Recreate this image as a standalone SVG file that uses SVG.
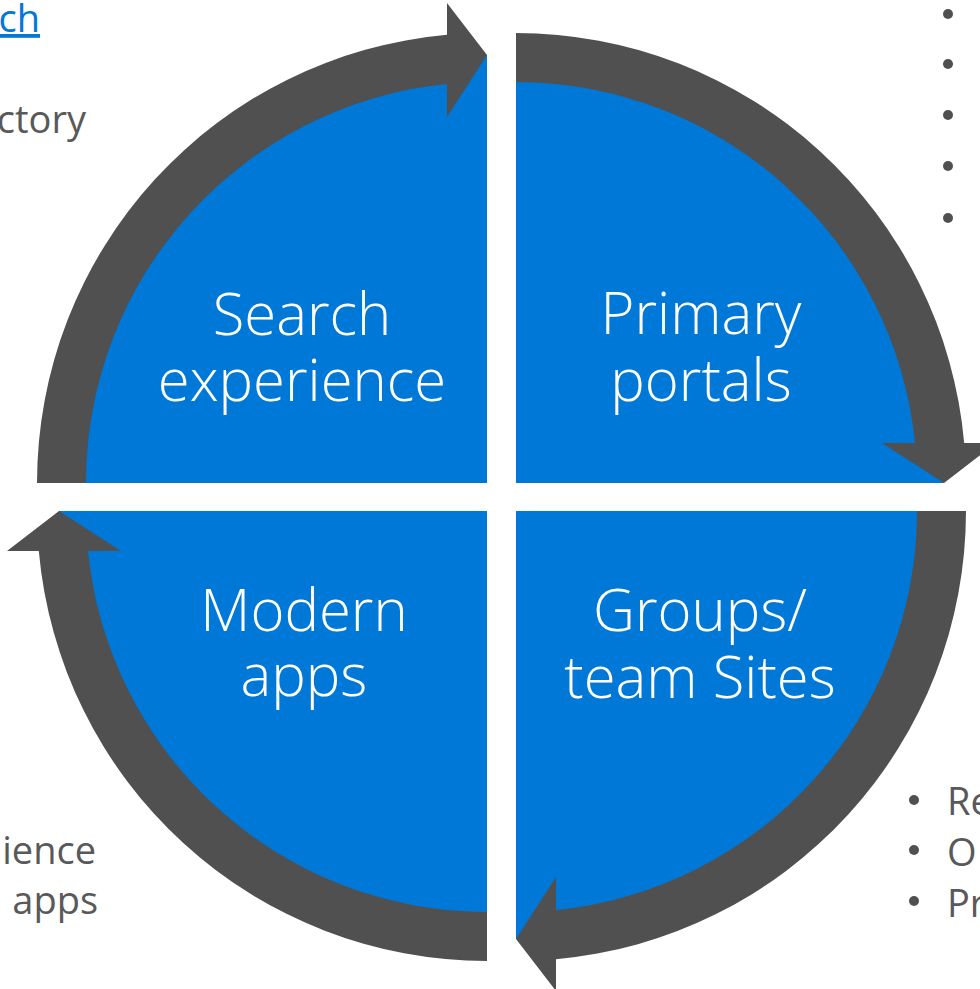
<svg xmlns="http://www.w3.org/2000/svg" width="980" height="989" viewBox="0 0 980 989">
<style>
.pie{fill:#0078D7}
.band{fill:#505050}
.lbl{font-family:"Segoe UI Light","Open Sans","Noto Sans",sans-serif;font-weight:300;font-size:58px;fill:#FFFFFF;text-anchor:middle}
.side{font-family:"Segoe UI","Open Sans","Noto Sans",sans-serif;font-size:38px;fill:#595959}
.link{fill:#0078D7;text-decoration:underline}
.dot{fill:#505050}
</style>
<rect width="980" height="989" fill="#FFFFFF"/>
<g id="side-text">
<text class="side link" x="40" y="32" text-anchor="end">ch</text>
<text class="side" x="86" y="133" text-anchor="end">ctory</text>
<text class="side" x="96" y="864" text-anchor="end">ience</text>
<text class="side" x="98" y="914" text-anchor="end">apps</text>
<circle class="dot" cx="948" cy="14" r="5"/>
<circle class="dot" cx="948" cy="64" r="5"/>
<circle class="dot" cx="948" cy="115" r="5"/>
<circle class="dot" cx="948" cy="166" r="5"/>
<circle class="dot" cx="948" cy="218" r="5"/>
<circle class="dot" cx="914" cy="800" r="5"/>
<circle class="dot" cx="914" cy="850" r="5"/>
<circle class="dot" cx="914" cy="901" r="5"/>
<text class="side" x="947" y="815">Re</text>
<text class="side" x="947" y="866">O</text>
<text class="side" x="947" y="917">Pr</text>
</g>
<g id="search-experience">
<path class="pie" d="M487,483 L59,483 A428,428 0 0 1 487,55 Z"/>
<text class="lbl" x="302" y="335">Search</text>
<text class="lbl" x="302" y="401">experience</text>
</g>
<g id="primary-portals">
<path class="pie" d="M516,483 L516,55 A428,428 0 0 1 944,483 Z"/>
<text class="lbl" x="701" y="334">Primary</text>
<text class="lbl" x="701" y="401">portals</text>
</g>
<g id="groups-team-sites">
<path class="pie" d="M516,511 L944,511 A428,428 0 0 1 516,939 Z"/>
<text class="lbl" x="700" y="631">Groups/</text>
<text class="lbl" x="700" y="698">team Sites</text>
</g>
<g id="modern-apps">
<path class="pie" d="M487,511 L487,939 A428,428 0 0 1 59,511 Z"/>
<text class="lbl" x="304" y="631">Modern</text>
<text class="lbl" x="304" y="696">apps</text>
</g>
<g id="connectors">
<path class="band" d="M37,483 A450,450 0 0 1 447,34.8 L447,3 L487,55 L447,117 L447,84 A401,401 0 0 0 86,483 Z"/>
<path class="band" d="M516,33 A450,450 0 0 1 964.2,443 L996,443 L944,483 L882,443 L915,443 A401,401 0 0 0 516,82 Z"/>
<path class="band" d="M966,511 A450,450 0 0 1 556,959.2 L556,991 L516,939 L556,877 L556,910 A401,401 0 0 0 917,511 Z"/>
<path class="band" d="M487,961 A450,450 0 0 1 38.8,551 L7,551 L59,511 L121,551 L88,551 A401,401 0 0 0 487,912 Z"/>
</g>
</svg>
